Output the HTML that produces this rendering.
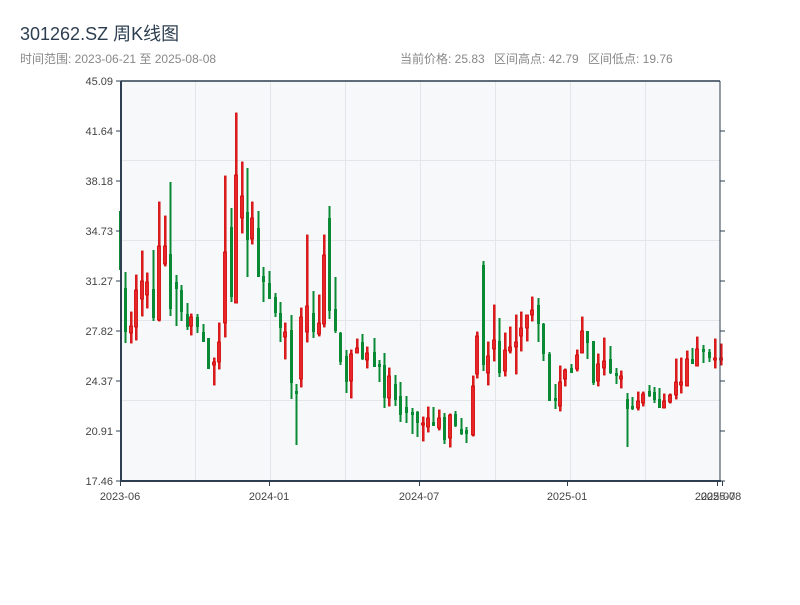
<!DOCTYPE html>
<html><head><meta charset="utf-8"><style>
body{margin:0;background:#fff;width:800px;height:600px;overflow:hidden;font-family:"Liberation Sans","Noto Sans CJK SC",sans-serif}
</style></head><body>
<svg width="800" height="600" xmlns="http://www.w3.org/2000/svg" font-family="Liberation Sans, Noto Sans CJK SC, sans-serif">
<text x="20" y="40" font-size="18" fill="#2c3e50">301262.SZ 周K线图</text>
<text x="20" y="63" font-size="12" fill="#888">时间范围: 2023-06-21 至 2025-08-08</text>
<text x="400" y="63" font-size="12" fill="#888">当前价格: 25.83</text>
<text x="494" y="63" font-size="12" fill="#888">区间高点: 42.79</text>
<text x="588" y="63" font-size="12" fill="#888">区间低点: 19.76</text>
<rect x="121" y="81" width="599" height="400" fill="#f7f8fa"/>
<g stroke="#e3e5ea" stroke-width="1">
<line x1="195.5" y1="81" x2="195.5" y2="481"/><line x1="270.5" y1="81" x2="270.5" y2="481"/><line x1="345.5" y1="81" x2="345.5" y2="481"/><line x1="420.5" y1="81" x2="420.5" y2="481"/><line x1="495.5" y1="81" x2="495.5" y2="481"/><line x1="570.5" y1="81" x2="570.5" y2="481"/><line x1="645.5" y1="81" x2="645.5" y2="481"/>
<line x1="121" y1="160.5" x2="720" y2="160.5"/><line x1="121" y1="240.5" x2="720" y2="240.5"/><line x1="121" y1="320.5" x2="720" y2="320.5"/><line x1="121" y1="400.5" x2="720" y2="400.5"/>
</g>
<g fill="#0a8a34">
<rect x="119" y="211" width="2" height="59"/>
<rect x="124.5" y="272" width="2" height="71"/><rect x="124" y="288" width="3" height="44"/>
<rect x="152.5" y="250" width="2" height="71"/><rect x="152" y="289" width="3" height="29"/>
<rect x="169.5" y="182" width="2" height="134"/><rect x="169" y="254" width="3" height="55"/>
<rect x="175.5" y="275" width="2" height="51"/><rect x="175" y="282" width="3" height="7"/>
<rect x="180.5" y="285" width="2" height="36"/><rect x="180" y="290" width="3" height="22"/>
<rect x="186.5" y="303" width="2" height="27"/><rect x="186" y="314" width="3" height="13"/>
<rect x="196.5" y="314" width="2" height="19"/><rect x="196" y="317" width="3" height="10"/>
<rect x="202.5" y="324" width="2" height="18"/><rect x="202" y="332" width="3" height="10"/>
<rect x="207" y="338" width="3" height="31"/>
<rect x="230.5" y="208" width="2" height="94"/><rect x="230" y="227" width="3" height="70"/>
<rect x="246.5" y="168" width="2" height="109"/><rect x="246" y="212" width="3" height="28"/>
<rect x="257.5" y="211" width="2" height="66"/><rect x="257" y="228" width="3" height="49"/>
<rect x="262.5" y="267" width="2" height="35"/><rect x="262" y="276" width="3" height="6"/>
<rect x="268.5" y="271" width="2" height="28"/><rect x="268" y="283" width="3" height="16"/>
<rect x="274.5" y="293" width="2" height="24"/><rect x="274" y="297" width="3" height="16"/>
<rect x="279.5" y="302" width="2" height="40"/><rect x="279" y="313" width="3" height="15"/>
<rect x="290.5" y="315" width="2" height="84"/><rect x="290" y="330" width="3" height="53"/>
<rect x="295.5" y="384" width="2" height="61"/><rect x="295" y="391" width="3" height="3"/>
<rect x="312.5" y="291" width="2" height="47"/><rect x="312" y="313" width="3" height="19"/>
<rect x="328.5" y="206" width="2" height="113"/><rect x="328" y="218" width="3" height="93"/>
<rect x="334.5" y="277" width="2" height="56"/><rect x="334" y="309" width="3" height="22"/>
<rect x="339.5" y="332" width="2" height="33"/><rect x="339" y="333" width="3" height="29"/>
<rect x="345.5" y="350" width="2" height="43"/><rect x="345" y="356" width="3" height="26"/>
<rect x="361.5" y="334" width="2" height="26"/><rect x="361" y="342" width="3" height="17"/>
<rect x="373.5" y="338" width="2" height="29"/><rect x="373" y="352" width="3" height="15"/>
<rect x="378.5" y="360" width="2" height="22"/><rect x="378" y="364" width="3" height="3"/>
<rect x="383.5" y="353" width="2" height="55"/><rect x="383" y="365" width="3" height="33"/>
<rect x="394.5" y="375" width="2" height="31"/><rect x="394" y="384" width="3" height="16"/>
<rect x="399.5" y="382" width="2" height="40"/><rect x="399" y="396" width="3" height="19"/>
<rect x="405.5" y="396" width="2" height="27"/><rect x="405" y="407" width="3" height="6"/>
<rect x="411.5" y="408" width="2" height="26"/><rect x="411" y="412" width="3" height="3"/>
<rect x="416.5" y="411" width="2" height="26"/><rect x="416" y="412" width="3" height="11"/>
<rect x="432.5" y="407" width="2" height="19"/><rect x="432" y="422" width="3" height="4"/>
<rect x="443.5" y="413" width="2" height="31"/><rect x="443" y="417" width="3" height="23"/>
<rect x="454.5" y="411" width="2" height="16"/><rect x="454" y="414" width="3" height="12"/>
<rect x="460.5" y="418" width="2" height="17"/><rect x="460" y="429" width="3" height="5"/>
<rect x="465.5" y="427" width="2" height="16"/><rect x="465" y="430" width="3" height="4"/>
<rect x="482.5" y="261" width="2" height="110"/><rect x="482" y="265" width="3" height="100"/>
<rect x="498.5" y="318" width="2" height="59"/><rect x="498" y="341" width="3" height="32"/>
<rect x="537.5" y="298" width="2" height="44"/><rect x="537" y="305" width="3" height="19"/>
<rect x="542.5" y="323" width="2" height="38"/><rect x="542" y="324" width="3" height="30"/>
<rect x="548.5" y="352" width="2" height="49"/><rect x="548" y="354" width="3" height="47"/>
<rect x="554.5" y="384" width="2" height="25"/><rect x="554" y="398" width="3" height="3"/>
<rect x="570.5" y="364" width="2" height="9"/><rect x="570" y="368" width="3" height="5"/>
<rect x="586.5" y="331" width="2" height="28"/><rect x="586" y="331" width="3" height="12"/>
<rect x="592.5" y="341" width="2" height="44"/><rect x="592" y="341" width="3" height="42"/>
<rect x="609.5" y="346" width="2" height="28"/><rect x="609" y="359" width="3" height="14"/>
<rect x="615.5" y="368" width="2" height="16"/><rect x="615" y="373" width="3" height="3"/>
<rect x="626.5" y="393" width="2" height="54"/><rect x="626" y="399" width="3" height="10"/>
<rect x="631.5" y="397" width="2" height="13"/><rect x="631" y="406" width="3" height="3"/>
<rect x="648.5" y="385" width="2" height="12"/><rect x="648" y="391" width="3" height="5"/>
<rect x="653.5" y="387" width="2" height="16"/><rect x="653" y="392" width="3" height="8"/>
<rect x="658.5" y="388" width="2" height="20"/><rect x="658" y="399" width="3" height="9"/>
<rect x="691.5" y="348" width="2" height="16"/><rect x="691" y="359" width="3" height="5"/>
<rect x="702.5" y="345" width="2" height="18"/><rect x="702" y="349" width="3" height="3"/>
<rect x="708.5" y="349" width="2" height="13"/><rect x="708" y="352" width="3" height="6"/>
</g>
<g fill="#e8262a" stroke="#cc0000" stroke-width="0.8">
<rect x="130.5" y="312" width="1.6" height="31"/><rect x="129.5" y="326" width="3" height="7"/>
<rect x="135.5" y="275" width="1.6" height="65"/><rect x="134.5" y="290" width="3" height="37"/>
<rect x="141.5" y="251" width="1.6" height="65"/><rect x="140.5" y="281" width="3" height="18"/>
<rect x="146.5" y="273" width="1.6" height="35"/><rect x="145.5" y="282" width="3" height="13"/>
<rect x="158.5" y="202" width="1.6" height="119"/><rect x="157.5" y="246" width="3" height="74"/>
<rect x="164.5" y="216" width="1.6" height="50"/><rect x="163.5" y="246" width="3" height="18"/>
<rect x="190.5" y="314" width="1.6" height="21"/><rect x="189.5" y="317" width="3" height="9"/>
<rect x="213.5" y="358" width="1.6" height="27"/><rect x="212.5" y="362" width="3" height="3"/>
<rect x="218.5" y="323" width="1.6" height="46"/><rect x="217.5" y="342" width="3" height="20"/>
<rect x="224.5" y="176" width="1.6" height="161"/><rect x="223.5" y="252" width="3" height="71"/>
<rect x="235.5" y="113" width="1.6" height="190"/><rect x="234.5" y="175" width="3" height="128"/>
<rect x="241.5" y="162" width="1.6" height="71"/><rect x="240.5" y="196" width="3" height="22"/>
<rect x="251.5" y="202" width="1.6" height="42"/><rect x="250.5" y="218" width="3" height="21"/>
<rect x="284.5" y="323" width="1.6" height="36"/><rect x="283.5" y="332" width="3" height="5"/>
<rect x="300.5" y="308" width="1.6" height="79"/><rect x="299.5" y="317" width="3" height="62"/>
<rect x="306.5" y="235" width="1.6" height="107"/><rect x="305.5" y="306" width="3" height="26"/>
<rect x="318.5" y="295" width="1.6" height="41"/><rect x="317.5" y="323" width="3" height="11"/>
<rect x="323.5" y="235" width="1.6" height="92"/><rect x="322.5" y="255" width="3" height="69"/>
<rect x="350.5" y="350" width="1.6" height="48"/><rect x="349.5" y="354" width="3" height="27"/>
<rect x="356.5" y="339" width="1.6" height="14"/><rect x="355.5" y="348" width="3" height="5"/>
<rect x="366.5" y="347" width="1.6" height="21"/><rect x="365.5" y="353" width="3" height="7"/>
<rect x="388.5" y="368" width="1.6" height="38"/><rect x="387.5" y="376" width="3" height="22"/>
<rect x="422.5" y="417" width="1.6" height="24"/><rect x="421.5" y="423" width="3" height="2"/>
<rect x="427.5" y="407" width="1.6" height="25"/><rect x="426.5" y="418" width="3" height="9"/>
<rect x="438.5" y="410" width="1.6" height="20"/><rect x="437.5" y="418" width="3" height="10"/>
<rect x="449.5" y="414" width="1.6" height="33"/><rect x="448.5" y="415" width="3" height="23"/>
<rect x="472.5" y="376" width="1.6" height="60"/><rect x="471.5" y="386" width="3" height="49"/>
<rect x="476.5" y="332" width="1.6" height="46"/><rect x="475.5" y="336" width="3" height="38"/>
<rect x="487.5" y="342" width="1.6" height="43"/><rect x="486.5" y="356" width="3" height="17"/>
<rect x="493.5" y="305" width="1.6" height="56"/><rect x="492.5" y="340" width="3" height="9"/>
<rect x="504.5" y="333" width="1.6" height="43"/><rect x="503.5" y="350" width="3" height="21"/>
<rect x="509.5" y="327" width="1.6" height="26"/><rect x="508.5" y="347" width="3" height="4"/>
<rect x="515.5" y="315" width="1.6" height="59"/><rect x="514.5" y="342" width="3" height="5"/>
<rect x="520.5" y="312" width="1.6" height="39"/><rect x="519.5" y="328" width="3" height="8"/>
<rect x="526.5" y="315" width="1.6" height="26"/><rect x="525.5" y="315" width="3" height="13"/>
<rect x="531.5" y="297" width="1.6" height="24"/><rect x="530.5" y="310" width="3" height="5"/>
<rect x="559.5" y="366" width="1.6" height="45"/><rect x="558.5" y="382" width="3" height="24"/>
<rect x="564.5" y="369" width="1.6" height="17"/><rect x="563.5" y="370" width="3" height="9"/>
<rect x="576.5" y="350" width="1.6" height="21"/><rect x="575.5" y="355" width="3" height="14"/>
<rect x="581.5" y="317" width="1.6" height="36"/><rect x="580.5" y="331" width="3" height="22"/>
<rect x="597.5" y="354" width="1.6" height="32"/><rect x="596.5" y="364" width="3" height="17"/>
<rect x="603.5" y="338" width="1.6" height="37"/><rect x="602.5" y="361" width="3" height="7"/>
<rect x="620.5" y="371" width="1.6" height="17"/><rect x="619.5" y="376" width="3" height="3"/>
<rect x="637.5" y="392" width="1.6" height="18"/><rect x="636.5" y="401" width="3" height="7"/>
<rect x="642.5" y="392" width="1.6" height="14"/><rect x="641.5" y="394" width="3" height="9"/>
<rect x="663.5" y="394" width="1.6" height="14"/><rect x="662.5" y="401" width="3" height="7"/>
<rect x="669.5" y="394" width="1.6" height="9"/><rect x="668.5" y="395" width="3" height="7"/>
<rect x="675.5" y="359" width="1.6" height="40"/><rect x="674.5" y="382" width="3" height="13"/>
<rect x="680.5" y="358" width="1.6" height="35"/><rect x="679.5" y="382" width="3" height="3"/>
<rect x="686.5" y="351" width="1.6" height="35"/><rect x="685.5" y="359" width="3" height="27"/>
<rect x="696.5" y="337" width="1.6" height="29"/><rect x="695.5" y="349" width="3" height="17"/>
<rect x="714.5" y="339" width="1.6" height="29"/><rect x="713.5" y="358" width="3" height="2"/>
<rect x="720.5" y="344" width="1.6" height="21"/><rect x="719.5" y="358" width="3" height="2"/>
</g>
<g stroke="#2c3e50">
<line x1="121" y1="81" x2="121" y2="482" stroke-width="2"/>
<line x1="120" y1="481" x2="721" y2="481" stroke-width="2"/>
<line x1="121" y1="81" x2="720" y2="81" stroke-width="1.5"/>
<line x1="720" y1="81" x2="720" y2="482" stroke-width="1"/>
<g stroke-width="1">
<line x1="116" y1="81" x2="121" y2="81"/><line x1="116" y1="131" x2="121" y2="131"/><line x1="116" y1="181" x2="121" y2="181"/><line x1="116" y1="231" x2="121" y2="231"/><line x1="116" y1="281" x2="121" y2="281"/><line x1="116" y1="331" x2="121" y2="331"/><line x1="116" y1="381" x2="121" y2="381"/><line x1="116" y1="431" x2="121" y2="431"/><line x1="116" y1="481" x2="121" y2="481"/>
<line x1="720" y1="131" x2="725" y2="131"/><line x1="720" y1="181" x2="725" y2="181"/><line x1="720" y1="231" x2="725" y2="231"/><line x1="720" y1="281" x2="725" y2="281"/><line x1="720" y1="331" x2="725" y2="331"/><line x1="720" y1="381" x2="725" y2="381"/><line x1="720" y1="431" x2="725" y2="431"/><line x1="720" y1="481" x2="725" y2="481"/>
<line x1="120.5" y1="481" x2="120.5" y2="486"/><line x1="269.5" y1="481" x2="269.5" y2="486"/><line x1="419.5" y1="481" x2="419.5" y2="486"/><line x1="567.5" y1="481" x2="567.5" y2="486"/><line x1="717.5" y1="481" x2="717.5" y2="486"/><line x1="722.5" y1="481" x2="722.5" y2="486"/>
</g></g>
<g font-size="11" fill="#444" text-anchor="end">
<text x="113" y="85">45.09</text><text x="113" y="135">41.64</text><text x="113" y="185">38.18</text><text x="113" y="235">34.73</text><text x="113" y="285">31.27</text><text x="113" y="335">27.82</text><text x="113" y="385">24.37</text><text x="113" y="435">20.91</text><text x="113" y="485">17.46</text>
</g>
<g font-size="11" fill="#444" text-anchor="middle">
<text x="120" y="500">2023-06</text><text x="269" y="500">2024-01</text><text x="419" y="500">2024-07</text><text x="567" y="500">2025-01</text><text x="715" y="500">2025-07</text><text x="721" y="500">2025-08</text>
</g>
</svg>
</body></html>
